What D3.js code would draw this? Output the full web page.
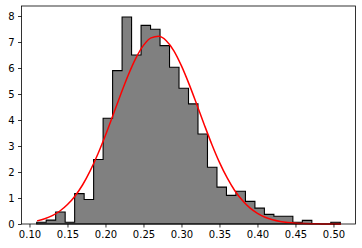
<!DOCTYPE html>
<html lang="en">
	<head>
		<meta charset="utf-8">
		<title>Histogram with normal fit</title>
		<script src="https://d3js.org/d3.v7.min.js"></script>
		<style type="text/css">
			body { margin: 0; background: #fff; }
			text { font-family: "DejaVu Sans", sans-serif; }
		</style>
	</head>
	<body>
		<script type="text/javascript">
			// chart size
			var w = 362;
			var h = 248;

			// histogram bins (density), 32 equal bins
			var binStart = 0.1095;
			var binEnd = 0.509;
			var density = [0.07, 0.15, 0.46, 0.07, 1.17, 0.94, 2.48, 4.07, 5.9, 7.96,
				6.5, 7.64, 7.49, 6.86, 6.03, 5.22, 4.62, 3.46, 2.18, 1.42,
				1.1, 1.26, 0.87, 0.61, 0.37, 0.3, 0.3, 0.07, 0.14, 0, 0, 0.07];

			// fitted curve
			var curveX = [0.11, 0.12, 0.13, 0.14, 0.15, 0.16, 0.17, 0.18, 0.19, 0.20,
				0.21, 0.22, 0.23, 0.24, 0.25, 0.26, 0.27, 0.28, 0.29, 0.30,
				0.31, 0.32, 0.33, 0.34, 0.35, 0.36, 0.37, 0.38, 0.39, 0.40,
				0.41, 0.42, 0.43, 0.44, 0.45, 0.46, 0.47, 0.48, 0.49, 0.50, 0.51];
			var curveY = [0.12, 0.2, 0.32, 0.5, 0.75, 1.08, 1.51, 2.05, 2.69, 3.41,
				4.19, 4.98, 5.73, 6.38, 6.87, 7.16, 7.22, 7.05, 6.66, 6.08,
				5.38, 4.61, 3.82, 3.06, 2.37, 1.78, 1.29, 0.91, 0.62, 0.41,
				0.26, 0.16, 0.095, 0.055, 0.031, 0.017, 0.009, 0.005, 0.002, 0.001, 0.0005];

			var xTicks = [0.10, 0.15, 0.20, 0.25, 0.30, 0.35, 0.40, 0.45, 0.50];
			var yTicks = [0, 1, 2, 3, 4, 5, 6, 7, 8];

			var svg = d3.select('body').append('svg').attr('width', w).attr('height', h);

			var xScale = d3.scaleLinear()
				.domain([0.0895, 0.529])
				.range([21.5, 355.5]);

			var yScale = d3.scaleLinear()
				.domain([0, 8.385])
				.range([224, 6]);

			// step outline of the histogram
			var bw = (binEnd - binStart) / density.length;
			var pts = [[binStart, 0]];
			density.forEach(function(d, i) {
				pts.push([binStart + i * bw, d]);
				pts.push([binStart + (i + 1) * bw, d]);
			});
			pts.push([binEnd, 0]);

			var line = d3.line()
				.x(d => xScale(d[0]))
				.y(d => yScale(d[1]));

			svg.append('path')
				.attr('d', line(pts) + 'Z')
				.attr('fill', '#808080')
				.attr('stroke', 'black')
				.attr('stroke-width', 1.1)
				.attr('stroke-linejoin', 'miter');

			// normal curve
			svg.append('path')
				.datum(curveX.map((x, i) => [x, curveY[i]]))
				.attr('d', d3.line().x(d => xScale(d[0])).y(d => yScale(d[1])).curve(d3.curveMonotoneX))
				.attr('fill', 'none')
				.attr('stroke', 'red')
				.attr('stroke-width', 1.5);

			// axes
			var xAxis = svg.append('g')
				.attr('transform', 'translate(0,224)')
				.call(d3.axisBottom(xScale).tickValues(xTicks).tickFormat(d3.format('.2f')).tickSize(3.5).tickPadding(3.5));
			var yAxis = svg.append('g')
				.attr('transform', 'translate(21.5,0)')
				.call(d3.axisLeft(yScale).tickValues(yTicks).tickFormat(d3.format('d')).tickSize(3.5).tickPadding(3.5));

			[xAxis, yAxis].forEach(function(a) {
				a.select('.domain').remove();
				a.selectAll('text').attr('font-size', '10px').attr('font-family', '"DejaVu Sans", sans-serif').attr('fill', '#000');
				a.selectAll('line').attr('stroke', '#000').attr('stroke-width', 0.8);
			});

			// frame
			svg.append('rect')
				.attr('x', 21.5)
				.attr('y', 6)
				.attr('width', 334)
				.attr('height', 218)
				.attr('fill', 'none')
				.attr('stroke', 'black')
				.attr('stroke-width', 0.8);
		</script>
	</body>
</html>
